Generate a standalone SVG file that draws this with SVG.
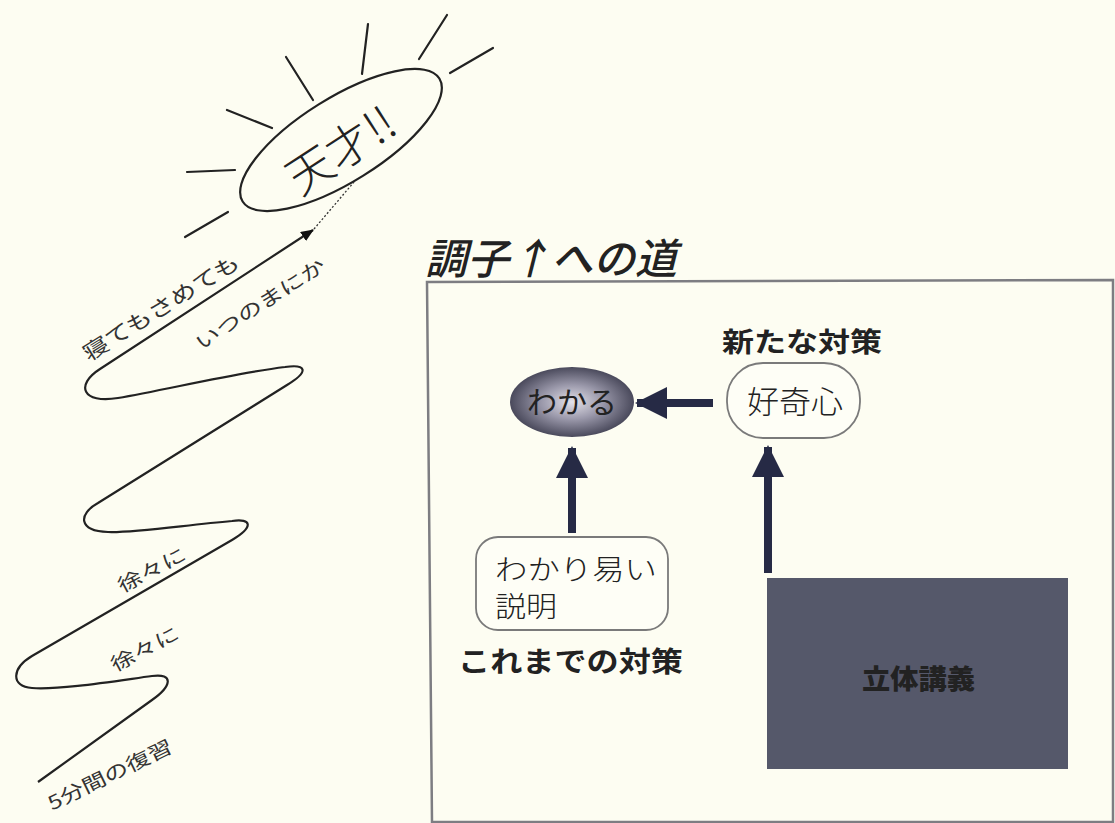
<svg xmlns="http://www.w3.org/2000/svg" width="1115" height="823" viewBox="0 0 1115 823">
<style>
.jp{font-family:"Noto Sans CJK JP","Noto Sans CJK SC",sans-serif;fill:#222;}
.hand{font-family:"Noto Sans CJK JP","Noto Sans CJK SC",sans-serif;fill:#333;font-weight:400;}
.ray{stroke:#222;stroke-width:2.2;fill:none;stroke-linecap:round;}
.thick{stroke:#262a45;stroke-width:8;fill:none;}
.node{fill:#fefef6;stroke:#7a7a7a;stroke-width:1.8;}
</style>
<defs>
<radialGradient id="ballGrad" cx="50%" cy="50%" r="55%">
<stop offset="0%" stop-color="#e4e2ea"/>
<stop offset="45%" stop-color="#9a98aa"/>
<stop offset="100%" stop-color="#3a3a4c"/>
</radialGradient>
<marker id="bigHead" viewBox="0 0 32 32" refX="30" refY="16" markerWidth="32" markerHeight="32" markerUnits="userSpaceOnUse" orient="auto">
<path d="M0,0 L32,16 L0,32 z" fill="#262a45"/>
</marker>
<marker id="smallHead" viewBox="0 0 12 10" refX="11" refY="5" markerWidth="13" markerHeight="11" markerUnits="userSpaceOnUse" orient="auto">
<path d="M0,0 L12,5 L0,10 z" fill="#111"/>
</marker>
</defs>
<rect x="0" y="0" width="1115" height="823" fill="#fdfdf2"/>

<!-- Left side: path to genius -->
<g id="genius">
<ellipse cx="341" cy="140" rx="116" ry="42" transform="rotate(-32 341 140)" fill="none" stroke="#222" stroke-width="2.2"/>
<text class="jp" font-size="46" font-weight="300" text-anchor="middle" transform="translate(350,164) rotate(-33)">天才!!</text>
</g>
<g id="rays">
<line class="ray" x1="187" y1="172" x2="235" y2="170"/>
<line class="ray" x1="227" y1="110" x2="272" y2="128"/>
<line class="ray" x1="286" y1="57" x2="313" y2="100"/>
<line class="ray" x1="368" y1="24" x2="362" y2="74"/>
<line class="ray" x1="447" y1="15" x2="419" y2="59"/>
<line class="ray" x1="493" y1="48" x2="450" y2="73"/>
<line class="ray" x1="185" y1="237" x2="228" y2="212"/>
</g>
<g id="wave">
<path d="M 38 782 L 152 700 C 172 686, 174 673, 152 676 C 115 681, 60 690, 32 688 C 10 686, 12 668, 32 656 L 232 540 C 254 527, 252 518, 232 521 C 185 525, 135 533, 108 532 C 78 531, 78 514, 98 503 L 287 385 C 310 371, 306 364, 285 367 C 235 373, 165 390, 118 398 C 82 404, 75 385, 100 369 L 313 230" fill="none" stroke="#222" stroke-width="2.2" marker-end="url(#smallHead)"/>
<line x1="314" y1="229" x2="354" y2="182" stroke="#333" stroke-width="1.3" stroke-dasharray="2 2"/>
</g>
<g id="wave-labels">
<text class="hand" font-size="21" text-anchor="middle" textLength="180" lengthAdjust="spacingAndGlyphs" transform="translate(165,314) rotate(-32)">寝てもさめても</text>
<text class="hand" font-size="19" text-anchor="middle" textLength="150" lengthAdjust="spacingAndGlyphs" transform="translate(264,310) rotate(-33)">いつのまにか</text>
<text class="hand" font-size="19" text-anchor="middle" textLength="74" lengthAdjust="spacingAndGlyphs" transform="translate(155,576) rotate(-28)">徐々に</text>
<text class="hand" font-size="19" text-anchor="middle" textLength="74" lengthAdjust="spacingAndGlyphs" transform="translate(148,655) rotate(-28)">徐々に</text>
<text class="hand" font-size="19" text-anchor="middle" textLength="136" lengthAdjust="spacingAndGlyphs" transform="translate(113,781) rotate(-26)">5分間の復習</text>
</g>

<!-- Right side: panel -->
<g id="title">
<text class="jp" x="425" y="274" font-size="42" font-style="italic" font-weight="500" textLength="252" lengthAdjust="spacingAndGlyphs">調子↑への道</text>
</g>
<g id="frame">
<path d="M 427 282 L 1113 280 L 1113 822 L 432 822 Z" fill="none" stroke="#7d7d82" stroke-width="2.5"/>
</g>
<g id="label-new">
<text class="jp" x="722" y="352" font-size="27" font-weight="700" textLength="160" lengthAdjust="spacingAndGlyphs">新たな対策</text>
</g>
<g id="node-wakaru">
<ellipse cx="572" cy="402" rx="62" ry="35" fill="url(#ballGrad)"/>
<text class="jp" x="527" y="413" font-size="30" font-weight="400" fill="#1a1a22" textLength="90" lengthAdjust="spacingAndGlyphs">わかる</text>
</g>
<g id="node-kokishin">
<rect class="node" x="727" y="363" width="133" height="75" rx="36"/>
<text class="jp" x="747" y="413" font-size="31" font-weight="300" textLength="96" lengthAdjust="spacingAndGlyphs">好奇心</text>
</g>
<g id="node-setsumei">
<rect class="node" x="476" y="537" width="192" height="93" rx="22"/>
<text class="jp" x="495" y="580" font-size="28" font-weight="300" textLength="162" lengthAdjust="spacingAndGlyphs">わかり易い</text>
<text class="jp" x="495" y="617" font-size="28" font-weight="300" textLength="62" lengthAdjust="spacingAndGlyphs">説明</text>
</g>
<g id="label-old">
<text class="jp" x="458" y="672" font-size="28" font-weight="700" textLength="225" lengthAdjust="spacingAndGlyphs">これまでの対策</text>
</g>
<g id="node-rittai">
<rect x="767" y="578" width="301" height="191" fill="#55586a"/>
<text class="jp" x="862" y="689" font-size="27" font-weight="900" fill="#111" textLength="113" lengthAdjust="spacingAndGlyphs">立体講義</text>
</g>
<g id="connectors">
<line class="thick" x1="713" y1="403" x2="637" y2="403" marker-end="url(#bigHead)"/>
<line class="thick" x1="572" y1="533" x2="572" y2="448" marker-end="url(#bigHead)"/>
<line class="thick" x1="768" y1="573" x2="768" y2="447" marker-end="url(#bigHead)"/>
</g>
</svg>
